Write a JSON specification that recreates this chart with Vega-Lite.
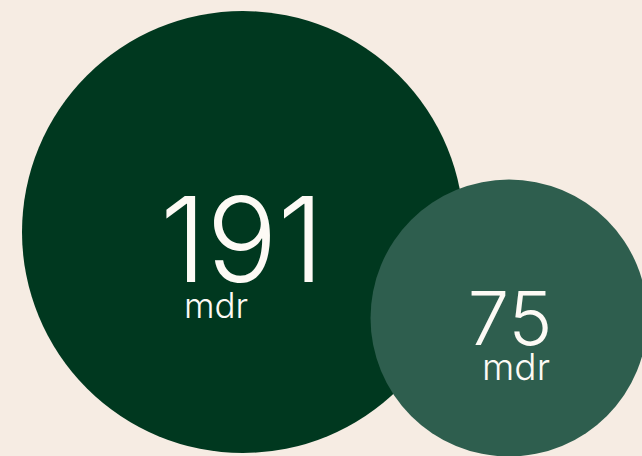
{
  "$schema": "https://vega.github.io/schema/vega-lite/v6.json",
  "width": 642,
  "height": 456,
  "padding": 0,
  "autosize": {"type": "none"},
  "background": "#f6ece3",
  "config": {"view": {"stroke": null}},
  "data": {"values": [
    {"label": "191", "unit": "mdr", "value": 191, "cx": 243, "cy": 232, "group": "a"},
    {"label": "75", "unit": "mdr", "value": 75, "cx": 509, "cy": 318, "group": "b"}
  ]},
  "encoding": {
    "x": {"field": "cx", "type": "quantitative", "scale": {"domain": [0, 642]}, "axis": null},
    "y": {"field": "cy", "type": "quantitative", "scale": {"domain": [456, 0]}, "axis": null}
  },
  "layer": [
    {
      "mark": {"type": "point", "filled": true, "opacity": 1, "shape": "circle"},
      "encoding": {
        "size": {"field": "value", "type": "quantitative", "scale": {"domain": [0, 191], "range": [0, 195364], "zero": true}, "legend": null},
        "color": {"field": "group", "type": "nominal", "scale": {"domain": ["a", "b"], "range": ["#00381f", "#2e5e4e"]}, "legend": null}
      }
    },
    {
      "transform": [{"filter": "datum.group === 'a'"}],
      "mark": {"type": "text", "font": "Inter", "fontWeight": 300, "fontSize": 118, "color": "#fdfaf5", "align": "center", "baseline": "alphabetic", "dy": 50, "dx": -1},
      "encoding": {"text": {"field": "label"}}
    },
    {
      "transform": [{"filter": "datum.group === 'a'"}],
      "mark": {"type": "text", "font": "Inter", "fontWeight": 300, "fontSize": 35, "color": "#fdfaf5", "align": "center", "baseline": "alphabetic", "dy": 86, "dx": -27},
      "encoding": {"text": {"field": "unit"}}
    },
    {
      "transform": [{"filter": "datum.group === 'b'"}],
      "mark": {"type": "text", "font": "Inter", "fontWeight": 300, "fontSize": 74, "color": "#fdfaf5", "align": "center", "baseline": "alphabetic", "dy": 27, "dx": 1},
      "encoding": {"text": {"field": "label"}}
    },
    {
      "transform": [{"filter": "datum.group === 'b'"}],
      "mark": {"type": "text", "font": "Inter", "fontWeight": 300, "fontSize": 37, "color": "#fdfaf5", "align": "center", "baseline": "alphabetic", "dy": 62, "dx": 7},
      "encoding": {"text": {"field": "unit"}}
    }
  ]
}
